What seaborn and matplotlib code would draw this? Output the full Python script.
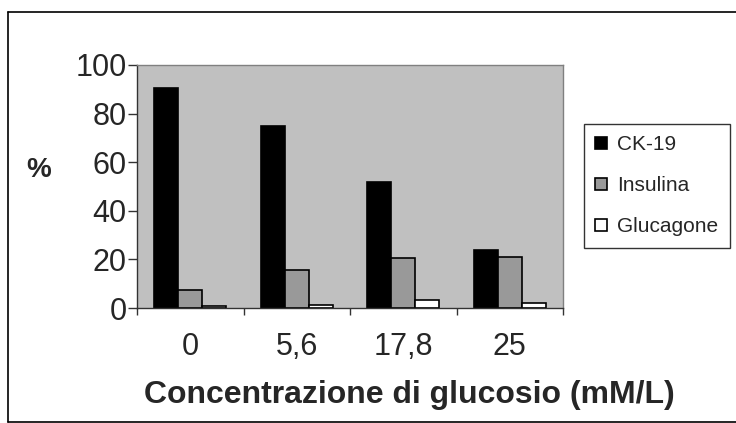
import matplotlib
matplotlib.use("Agg")
import matplotlib.pyplot as plt
import seaborn as sns
import pandas as pd
from matplotlib.patches import Patch
from matplotlib.lines import Line2D
from matplotlib.ticker import FixedLocator

categories = ["0", "5,6", "17,8", "25"]
ck19 = [90.5, 75, 52, 24]
insulina = [7.5, 15.5, 20.5, 21]
glucagone = [0.7, 1.3, 3.3, 2.2]
series_names = ["CK-19", "Insulina", "Glucagone"]
series_colors = ["#000000", "#999999", "#FFFFFF"]
y_ticks = [0, 20, 40, 60, 80, 100]

sns.set_theme(style="white")
plt.rcParams["font.family"] = ["Liberation Sans", "DejaVu Sans"]

rows = []
for name, vals in zip(series_names, [ck19, insulina, glucagone]):
    for c, v in zip(categories, vals):
        rows.append({"cat": c, "serie": name, "val": v})
df = pd.DataFrame(rows)

W, H = 736, 423
fig = plt.figure(figsize=(W/100, H/100), dpi=100)
ax = fig.add_axes([137/W, 1-308/H, (563-137)/W, (308-65)/H])

sns.barplot(data=df, x="cat", y="val", hue="serie", order=categories,
            hue_order=series_names, palette=series_colors, width=0.68,
            edgecolor="black", linewidth=1.2, ax=ax, legend=False,
            saturation=1)

ax.set_facecolor("#C0C0C0")
ax.set_ylim(0, 100)
ax.set_xlim(-0.5, 3.5)
ax.set_yticks(y_ticks)
ax.set_yticklabels([str(t) for t in y_ticks], fontsize=22)
ax.set_xticks(range(4))
ax.set_xticklabels(categories, fontsize=22)
ax.tick_params(axis="x", which="major", length=0, pad=17)
ax.xaxis.set_minor_locator(FixedLocator([-0.5, 0.5, 1.5, 2.5, 3.5]))
ax.tick_params(axis="x", which="minor", length=5, width=1, color="#333333", direction="out", bottom=True)
ax.tick_params(axis="y", length=6.5, width=1, color="#333333", direction="out", left=True, pad=1)
ax.set_xlabel("")
ax.set_ylabel("")
for s in ["top", "right"]:
    ax.spines[s].set_color("#808080")
    ax.spines[s].set_linewidth(1)
for s in ["left", "bottom"]:
    ax.spines[s].set_color("#333333")
    ax.spines[s].set_linewidth(1)
ax.grid(False)

fig.text(409/W, 1-403/H, "Concentrazione di glucosio (mM/L)", fontsize=23,
         fontweight="bold", ha="center", va="baseline")
fig.text(39/W, 1-177/H, "%", fontsize=20, fontweight="bold", ha="center", va="baseline")

handles = [Patch(facecolor=c, edgecolor="black", linewidth=1.2) for c in series_colors]
leg = fig.legend(handles, series_names, loc="upper left",
                 bbox_to_anchor=(584/W, 1-124/H), fontsize=15,
                 frameon=True, fancybox=False, handlelength=0.55, handleheight=0.55,
                 handletextpad=0.5, labelspacing=1.05, borderpad=0.55, borderaxespad=0)
leg.get_frame().set_edgecolor("black")
leg.get_frame().set_linewidth(1)

# outer figure border
fig.add_artist(Line2D([8/W, 8/W], [1-12/H, 1-421.5/H], color="black", lw=1.2, transform=fig.transFigure))
fig.add_artist(Line2D([8/W, 1.0], [1-12/H, 1-12/H], color="black", lw=1.2, transform=fig.transFigure))
fig.add_artist(Line2D([8/W, 1.0], [1-421.5/H, 1-421.5/H], color="black", lw=1.2, transform=fig.transFigure))

fig.savefig("out.png", dpi=100)
